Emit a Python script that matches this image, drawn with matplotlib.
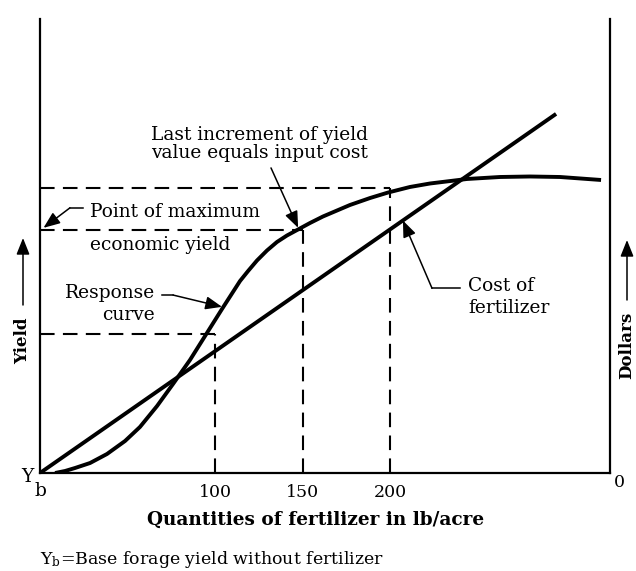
import matplotlib
matplotlib.use('Agg')
import matplotlib.pyplot as plt

plt.rcParams['font.family'] = 'DejaVu Serif'
plt.rcParams['mathtext.fontset'] = 'dejavuserif'

# fertilizer (lb/acre) and yield on the response curve
fert = [8.6, 14.3, 20.0, 28.6, 38.3, 48.6, 57.1, 66.9, 76.0, 85.7, 95.4, 104.0,
        114.3, 118.9, 124.0, 129.7, 135.4, 141.1, 146.9, 154.3, 161.7, 177.1,
        188.6, 198.9, 211.4, 222.9, 244.0, 262.9, 280.0, 297.1, 320.6]
yield_resp = [0.0, 0.44, 1.10, 2.20, 4.19, 7.05, 10.13, 14.76, 19.60, 24.89, 30.84,
              36.12, 42.29, 44.49, 46.81, 49.01, 50.88, 52.31, 53.52, 55.07, 56.50,
              59.03, 60.57, 61.78, 63.00, 63.77, 64.76, 65.20, 65.31, 65.20, 64.54]

# cost of fertilizer line
cost_x = [0, 294.9]
cost_y = [0, 79.1]

# marked rates and their yield levels
rate_ticks = [100, 150, 200]
rate_yield = [30.6, 53.5, 62.8]

fig = plt.figure(figsize=(6.36, 5.71), dpi=100)
ax = fig.add_axes([40/636, 1 - 473/571, 570/636, 454/571])
ax.set_xlim(0, 570/1.75)
ax.set_ylim(0, 100)

dash = (0, (7, 4))
for x, y in zip(rate_ticks, rate_yield):
    ax.plot([0, x], [y, y], color='black', lw=1.5, ls=dash)
    ax.plot([x, x], [0, y], color='black', lw=1.5, ls=dash)

ax.plot(fert, yield_resp, color='black', lw=2.8, solid_capstyle='butt',
        solid_joinstyle='round')
ax.plot(cost_x, cost_y, color='black', lw=2.8, solid_capstyle='butt')

for s in ['left', 'right', 'bottom']:
    ax.spines[s].set_linewidth(1.6)
ax.spines['top'].set_visible(False)
ax.set_yticks([])
ax.set_xticks(rate_ticks)
ax.set_xticklabels([str(r) for r in rate_ticks], fontsize=12.5)
ax.tick_params(axis='x', length=0, pad=8)

arrow = dict(arrowstyle='-|>,head_length=1.0,head_width=0.4', color='black',
             lw=1.1, shrinkA=0, shrinkB=0)
fs = 13.4

# Last increment label
ax.text(125.7, 72.5, 'Last increment of yield\nvalue equals input cost',
        ha='center', va='center', fontsize=fs, linespacing=0.95)
ax.annotate('', xy=(147.5, 54.0), xytext=(132, 67.2), arrowprops=arrow)

# Point of maximum economic yield
ax.text(28.6, 57.5, 'Point of maximum', ha='left', va='center', fontsize=fs)
ax.text(28.6, 50.2, 'economic yield', ha='left', va='center', fontsize=fs)
ax.plot([24.6, 17.1], [58.4, 58.4], color='black', lw=1.1)
ax.annotate('', xy=(2.0, 54.0), xytext=(17.1, 58.4), arrowprops=arrow)

# Response curve
ax.text(65.7, 39.6, 'Response', ha='right', va='center', fontsize=fs)
ax.text(65.7, 34.8, 'curve', ha='right', va='center', fontsize=fs)
ax.plot([69.7, 76], [39.2, 39.2], color='black', lw=1.1)
ax.annotate('', xy=(104, 36.6), xytext=(76, 39.2), arrowprops=arrow)

# Cost of fertilizer
ax.text(244.6, 41.2, 'Cost of', ha='left', va='center', fontsize=fs)
ax.text(244.6, 36.3, 'fertilizer', ha='left', va='center', fontsize=fs)
ax.plot([240, 224], [40.7, 40.7], color='black', lw=1.1)
ax.annotate('', xy=(207.4, 55.6), xytext=(224, 40.7), arrowprops=arrow)

# origin labels
ax.text(-7.4, -0.9, 'Y', ha='center', va='center', fontsize=fs, clip_on=False)
ax.text(0.5, -4.0, 'b', ha='center', va='center', fontsize=fs, clip_on=False)
ax.text(330.9, -2.0, '0', ha='center', va='center', fontsize=12.5, clip_on=False)

# side labels with arrows
H = 571
fig.text(23/636, 1 - 341/H, 'Yield', rotation=90, ha='center', va='center',
         fontsize=12, fontweight='bold')
ax.annotate('', xy=(23, H - 238), xytext=(23, H - 305), xycoords='figure pixels',
            textcoords='figure pixels', arrowprops=arrow)
fig.text(627/636, 1 - 345/H, 'Dollars', rotation=90, ha='center', va='center',
         fontsize=12, fontweight='bold')
ax.annotate('', xy=(627, H - 240), xytext=(627, H - 300), xycoords='figure pixels',
            textcoords='figure pixels', arrowprops=arrow)

fig.text(316/636, 1 - 520/H, 'Quantities of fertilizer in lb/acre', ha='center',
         va='center', fontsize=13.3, fontweight='bold')
fig.text(40/636, 1 - 560/H, r'Y$_{\mathregular{b}}$=Base forage yield without fertilizer',
         ha='left', va='center', fontsize=12.5)

fig.savefig('out.png', dpi=100)
